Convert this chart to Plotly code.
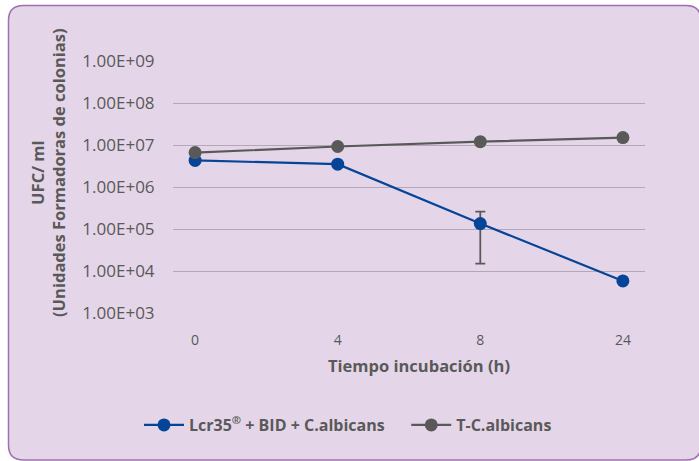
import plotly.graph_objects as go

categories = ["0", "4", "8", "24"]
lcr_values = [4.3e6, 3.5e6, 1.35e5, 5.8e3]
lcr_err_plus = [0, 0, 1.25e5, 0]
lcr_err_minus = [0, 0, 1.2e5, 0]
tc_values = [6.6e6, 9.2e6, 1.2e7, 1.5e7]
y_tickvals = [1e3, 1e4, 1e5, 1e6, 1e7, 1e8, 1e9]
y_ticktext = ["1.00E+03", "1.00E+04", "1.00E+05", "1.00E+06", "1.00E+07", "1.00E+08", "1.00E+09"]
series_names = ["Lcr35<sup>®</sup> + BID + C.albicans&nbsp;&nbsp;&nbsp;&nbsp;", "T-C.albicans"]

BLUE = "#064497"
GRAY = "#595959"
BG = "#E4D6E8"
W, H = 699, 461
L, R, T, B = 173, 645, 61, 313

def px(x):
    return (x - L) / (R - L)

def py(y):
    return (B - y) / (B - T)

fig = go.Figure()
fig.add_trace(go.Scatter(
    x=categories, y=lcr_values, mode="lines+markers",
    name=series_names[0],
    line=dict(color=BLUE, width=2.2),
    marker=dict(color=BLUE, size=13),
    error_y=dict(type="data", symmetric=False, array=lcr_err_plus, arrayminus=lcr_err_minus,
                 color=GRAY, thickness=1.8, width=5),
))
fig.add_trace(go.Scatter(
    x=categories, y=tc_values, mode="lines+markers",
    name=series_names[1],
    line=dict(color=GRAY, width=2.2),
    marker=dict(color=GRAY, size=13),
))

# rounded border panel
x0, x1 = px(8.5), px(701)
y0, y1 = py(460), py(5.5)
rx, ry = 15 / (R - L), 15 / (B - T)
path = (f"M {x0+rx},{y1} L {x1-rx},{y1} Q {x1},{y1} {x1},{y1-ry} "
        f"L {x1},{y0+ry} Q {x1},{y0} {x1-rx},{y0} L {x0+rx},{y0} "
        f"Q {x0},{y0} {x0},{y0+ry} L {x0},{y1-ry} Q {x0},{y1} {x0+rx},{y1} Z")
fig.add_shape(type="path", xref="paper", yref="paper", path=path,
              fillcolor=BG, line=dict(color="#A070B0", width=1.5), layer="below")

fig.add_annotation(xref="paper", yref="paper", x=px(48), y=py(172),
                   xanchor="center", yanchor="middle",
                   text="UFC/ ml<br>(Unidades Formadoras de colonias)",
                   textangle=-90, showarrow=False,
                   font=dict(family="Open Sans", size=16.5, color=GRAY, weight="bold"))
fig.add_annotation(xref="paper", yref="paper", x=px(419), y=py(365),
                   xanchor="center", yanchor="middle",
                   text="Tiempo incubación (h)", showarrow=False,
                   font=dict(family="Open Sans", size=16.5, color=GRAY, weight="bold"))

fig.update_layout(
    width=W, height=H,
    margin=dict(l=L, r=W - R, t=T, b=H - B),
    paper_bgcolor="white", plot_bgcolor="rgba(0,0,0,0)",
    showlegend=True,
    legend=dict(orientation="h", x=px(348), y=py(425), xanchor="center", yanchor="middle",
                font=dict(family="Open Sans", size=16, color=GRAY, weight="bold"),
                bgcolor="rgba(0,0,0,0)", itemwidth=40, tracegroupgap=0),
    xaxis=dict(type="category", range=[-0.155, 3.155], showgrid=False, zeroline=False,
               showline=False, ticks="outside", ticklen=14, tickcolor="rgba(0,0,0,0)",
               tickfont=dict(family="Open Sans", size=14, color=GRAY)),
    yaxis=dict(type="log", range=[3, 9], tickvals=y_tickvals, ticktext=y_ticktext,
               showgrid=True, gridcolor="#B4A8B8", gridwidth=1, zeroline=False,
               showline=False, ticks="outside", ticklen=14, tickcolor="rgba(0,0,0,0)",
               tickfont=dict(family="Open Sans", size=17, color=GRAY)),
)

fig.write_html("out.html", config={"displayModeBar": False},
               post_script="document.body.style.margin='0';")
